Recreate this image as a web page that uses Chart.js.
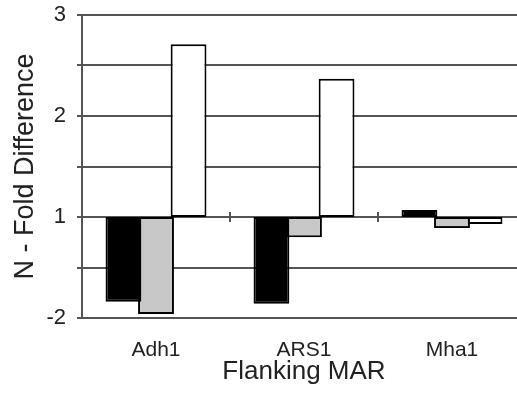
<!DOCTYPE html>
<html>
<head>
<meta charset="utf-8">
<script src="https://cdn.jsdelivr.net/npm/chart.js@4"></script>
<style>
  html, body { margin: 0; padding: 0; background: #fff; overflow: hidden; }
  #wrap { position: absolute; left: 0; top: 0; width: 530px; height: 393px; }
</style>
</head>
<body>
<div id="wrap"><canvas id="chart" width="530" height="393"></canvas></div>
<script>
// values are positions on the drawn axis (0 is labelled -2); bars hang from the baseline at 1
const categories = ['Adh1', 'ARS1', 'Mha1'];
const baseline = 1;
const blackValues = [0.16, 0.14, 1.07];
const grayValues = [0.04, 0.80, 0.89];
const whiteValues = [2.71, 2.37, 0.93];
const yTickValues = [0, 1, 2, 3];
const yTickLabels = ['-2', '1', '2', '3'];

const FONT = "'Liberation Sans', Arial, sans-serif";
const INK = '#222';
const GRID = '#555';

function floating(values) {
    return values.map(v => [baseline, v]);
}

function makeDataset(label, values, fill) {
    return {
        label: label,
        data: floating(values),
        backgroundColor: fill,
        borderColor: '#000',
        borderWidth: 2,
        borderSkipped: false,
        barPercentage: 1.1,
        categoryPercentage: 0.66
    };
}

// little tick marks between the categories, sitting on the baseline
const boundaryTicks = {
    id: 'boundaryTicks',
    afterDatasetsDraw(chart) {
        const x = chart.scales.x, y = chart.scales.y;
        const yb = y.getPixelForValue(baseline);
        const ctx = chart.ctx;
        ctx.save();
        ctx.strokeStyle = GRID;
        ctx.lineWidth = 2;
        for (let i = 0; i < categories.length - 1; i++) {
            const xb = (x.getPixelForValue(i) + x.getPixelForValue(i + 1)) / 2;
            ctx.beginPath();
            ctx.moveTo(xb, yb - 5);
            ctx.lineTo(xb, yb + 5);
            ctx.stroke();
        }
        ctx.restore();
    }
};

new Chart(document.getElementById('chart').getContext('2d'), {
    type: 'bar',
    data: {
        labels: categories,
        datasets: [
            makeDataset('Black', blackValues, '#000'),
            makeDataset('Gray', grayValues, '#c8c8c8'),
            makeDataset('White', whiteValues, '#fff')
        ]
    },
    options: {
        responsive: false,
        animation: false,
        layout: { padding: { left: 0, top: 15, right: 4, bottom: 0 } },
        plugins: { legend: { display: false }, tooltip: { enabled: false } },
        scales: {
            x: {
                grid: { display: false },
                border: { display: false },
                ticks: { color: INK, font: { family: FONT, size: 21 }, padding: 12, maxRotation: 0 },
                title: { display: true, text: 'Flanking MAR', color: INK, font: { family: FONT, size: 26 }, padding: { top: 0, bottom: 6 } },
                afterFit: s => { s.height = 75; }
            },
            y: {
                min: 0, max: 3,
                afterBuildTicks: s => {
                    const t = [];
                    for (let v = 0; v <= 3; v += 0.5) t.push({ value: v });
                    s.ticks = t;
                },
                ticks: {
                    color: INK,
                    font: { family: FONT, size: 22 },
                    padding: 11,
                    callback: v => {
                        const i = yTickValues.indexOf(v);
                        return i >= 0 ? yTickLabels[i] : '';
                    }
                },
                grid: { color: GRID, lineWidth: 2, tickLength: 5 },
                border: { color: GRID, width: 2 },
                title: { display: true, text: 'N - Fold Difference', color: INK, font: { family: FONT, size: 27 }, padding: { top: 9, bottom: 0 } },
                afterFit: s => { s.width = 82; s.paddingTop = 0; s.paddingBottom = 0; }
            }
        }
    },
    plugins: [boundaryTicks]
});
</script>
</body>
</html>
